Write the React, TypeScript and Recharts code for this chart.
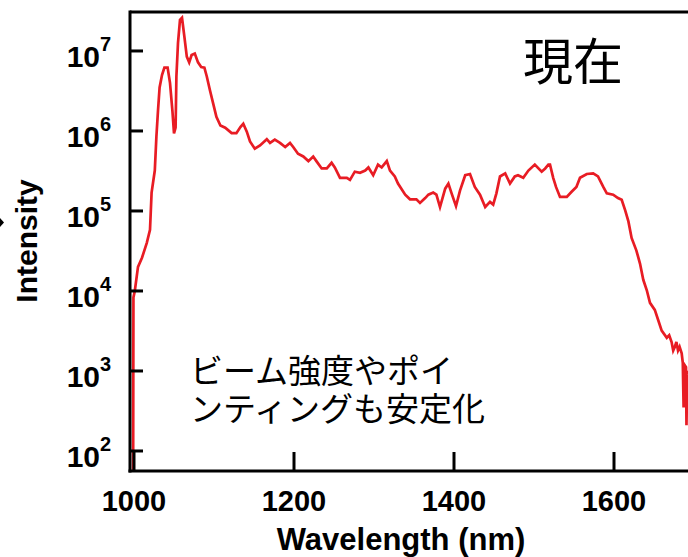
import { LineChart, Line, XAxis, YAxis, ReferenceLine } from "recharts";

// spectrum (wavelength in nm, intensity in counts)
const wavelengths = [
  998.8, 999.3, 1001, 1005, 1010, 1016, 1020, 1022, 1026, 1028, 1030, 1032, 1035, 1038, 1042,
  1045, 1048, 1050, 1052, 1053, 1055, 1057.5, 1060, 1063, 1066, 1069, 1072, 1076, 1080, 1084,
  1088, 1091, 1095, 1099, 1103, 1108, 1114, 1122, 1128, 1133, 1136.6, 1141, 1145, 1151, 1157.5,
  1166, 1170, 1176, 1182.5, 1189, 1195, 1199, 1205, 1211.6, 1218, 1224, 1228, 1234.6, 1241, 1247,
  1251, 1257.5, 1266, 1270, 1276, 1282.5, 1289, 1293, 1299, 1305, 1309.6, 1316, 1320, 1326, 1330,
  1339, 1345, 1353, 1357.5, 1364, 1368, 1374, 1378, 1382.5, 1389, 1393, 1397, 1402.5, 1407.5, 1414,
  1420, 1426, 1432.5, 1439, 1445, 1449, 1453, 1457.5, 1464, 1470, 1476, 1480, 1486.6, 1493, 1501,
  1509.6, 1514, 1518, 1520, 1524, 1527.5, 1532.5, 1541, 1547, 1553, 1557.5, 1566, 1574, 1580,
  1586.6, 1591, 1599, 1605, 1609.6, 1614, 1618, 1622, 1628, 1632.5, 1636.6, 1641, 1645, 1651, 1655,
  1659.6, 1666, 1669, 1672, 1674, 1676, 1678, 1680, 1682, 1684.6, 1686, 1687, 1688, 1690, 1690.6,
  1691.5, 1693,
];
const intensities = [
  10, 8.3e3, 1.0e4, 2.0e4, 2.6e4, 4.0e4, 5.8e4, 1.7e5, 3.2e5, 8.5e5, 1.8e6, 3.5e6, 5.0e6, 6.2e6, 6.2e6,
  4.0e6, 1.8e6, 9.3e5, 1.1e6, 4.8e6, 1.26e7, 2.45e7, 2.6e7, 1.5e7, 8.5e6, 7.2e6, 8.9e6, 9.3e6, 7.2e6, 6.3e6,
  6.2e6, 4.8e6, 3.2e6, 2.2e6, 1.5e6, 1.17e6, 1.1e6, 9.4e5, 9.4e5, 1.12e6, 1.23e6, 9.8e5, 7.4e5, 6.0e5, 6.6e5,
  7.9e5, 7.1e5, 7.8e5, 7.1e5, 6.3e5, 7.1e5, 6.3e5, 5.2e5, 4.8e5, 4.2e5, 4.8e5, 4.2e5, 3.4e5, 3.4e5, 4.0e5,
  3.5e5, 2.6e5, 2.6e5, 2.45e5, 3.1e5, 3.0e5, 3.2e5, 3.5e5, 2.8e5, 3.8e5, 3.5e5, 4.2e5, 3.2e5, 2.7e5, 2.2e5,
  1.6e5, 1.4e5, 1.4e5, 1.26e5, 1.45e5, 1.6e5, 1.7e5, 1.6e5, 1.12e5, 1.9e5, 2.2e5, 1.66e5, 1.15e5, 1.8e5, 2.8e5,
  2.9e5, 2.0e5, 1.6e5, 1.12e5, 1.3e5, 1.2e5, 1.66e5, 2.7e5, 2.95e5, 2.2e5, 2.7e5, 2.8e5, 2.6e5, 3.2e5, 3.8e5,
  3.1e5, 3.4e5, 3.8e5, 3.8e5, 2.6e5, 2.0e5, 1.5e5, 1.5e5, 1.74e5, 2.0e5, 2.6e5, 2.9e5, 2.95e5, 2.7e5,
  2.0e5, 1.66e5, 1.6e5, 1.45e5, 1.38e5, 1.02e5, 7.4e4, 4.6e4, 3.2e4, 2.2e4, 1.38e4, 1.02e4, 7.1e3, 5.8e3, 4.4e3,
  3.2e3, 2.6e3, 2.8e3, 2.3e3, 1.8e3, 2.0e3, 2.3e3, 1.8e3, 2.0e3, 1.66e3, 1.26e3, 3.5e2, 1.2e3, 1.12e3, 2.1e2,
  1.0e3, 9.0e2,
];

const xTicks = [1000, 1200, 1400, 1600];
const yTicks = [1e2, 1e3, 1e4, 1e5, 1e6, 1e7];
const yMin = 56.2;
const yMax = 3.07e7;

const xLabel = "Wavelength (nm)";
const yLabel = "Intensity";
const title = "現在";
const noteLines = ["ビーム強度やポイ", "ンティングも安定化"];

const data = wavelengths.map((w, i) => ({ w, v: intensities[i] }));

const axisFont = "'Liberation Sans', Arial, sans-serif";
const jpFont = "'Noto Sans CJK JP', sans-serif";
const axisLine = { stroke: "#000", strokeWidth: 3, strokeLinecap: "square" as const };

function YTick(props: any) {
  const { x, y, payload } = props;
  const exp = Math.round(Math.log10(payload.value));
  return (
    <g>
      <line x1={x} x2={x + 13} y1={y} y2={y} stroke="#000" strokeWidth={3} />
      <text x={x - 30} y={y + 16} textAnchor="end" fontFamily={axisFont} fontWeight="bold" fontSize={30} fill="#000">
        10
      </text>
      <text x={x - 30} y={y} textAnchor="start" fontFamily={axisFont} fontWeight="bold" fontSize={20} fill="#000">
        {exp}
      </text>
    </g>
  );
}

function XTick(props: any) {
  const { x, y, payload } = props;
  return (
    <g>
      <line x1={x} x2={x} y1={y} y2={y - 19} stroke="#000" strokeWidth={3} />
      <text x={x} y={y + 40} textAnchor="middle" fontFamily={axisFont} fontWeight="bold" fontSize={29} fill="#000">
        {payload.value}
      </text>
    </g>
  );
}

export default function App() {
  return (
    <div style={{ position: "absolute", left: 0, top: 0, width: 688, height: 557, overflow: "hidden", background: "#fff" }}>
      <LineChart width={688} height={557} data={data} margin={{ top: 12, right: 0, bottom: 0, left: 0 }}>
        <XAxis
          dataKey="w"
          type="number"
          domain={[995, 1692.5]}
          allowDataOverflow
          ticks={xTicks}
          interval={0}
          height={86}
          tickSize={0}
          tickMargin={0}
          tickLine={false}
          axisLine={axisLine}
          tick={<XTick />}
        />
        <YAxis
          type="number"
          scale="log"
          domain={[yMin, yMax]}
          allowDataOverflow
          ticks={yTicks}
          interval={0}
          width={130}
          tickSize={0}
          tickMargin={0}
          tickLine={false}
          axisLine={axisLine}
          tick={<YTick />}
        />
        <ReferenceLine y={yMax} stroke="#000" strokeWidth={3} ifOverflow="visible" />
        <Line
          type="linear"
          dataKey="v"
          stroke="#e81c24"
          strokeWidth={2.7}
          dot={false}
          isAnimationActive={false}
        />
      </LineChart>
      <svg width={688} height={557} style={{ position: "absolute", left: 0, top: 0, pointerEvents: "none" }}>
        <polygon points="0,218 4,222.5 0,227" fill="#000" />
        <text
          x={37}
          y={241}
          transform="rotate(-90, 37, 241)"
          textAnchor="middle"
          fontFamily={axisFont}
          fontWeight="bold"
          fontSize={30}
          fill="#000"
        >
          {yLabel}
        </text>
        <text x={401} y={550} textAnchor="middle" fontFamily={axisFont} fontWeight="bold" fontSize={31} fill="#000">
          {xLabel}
        </text>
        <text x={523} y={80} fontFamily={jpFont} fontSize={50} fill="#000">
          {title}
        </text>
      </svg>
      <div
        style={{
          position: "absolute",
          left: 190,
          top: 350,
          fontFamily: jpFont,
          fontSize: 33,
          lineHeight: "38px",
          color: "#000",
          whiteSpace: "nowrap",
          pointerEvents: "none",
        }}
      >
        {noteLines.map((line, i) => (
          <div key={i} style={{ height: 38 }}>
            {line}
          </div>
        ))}
      </div>
    </div>
  );
}
